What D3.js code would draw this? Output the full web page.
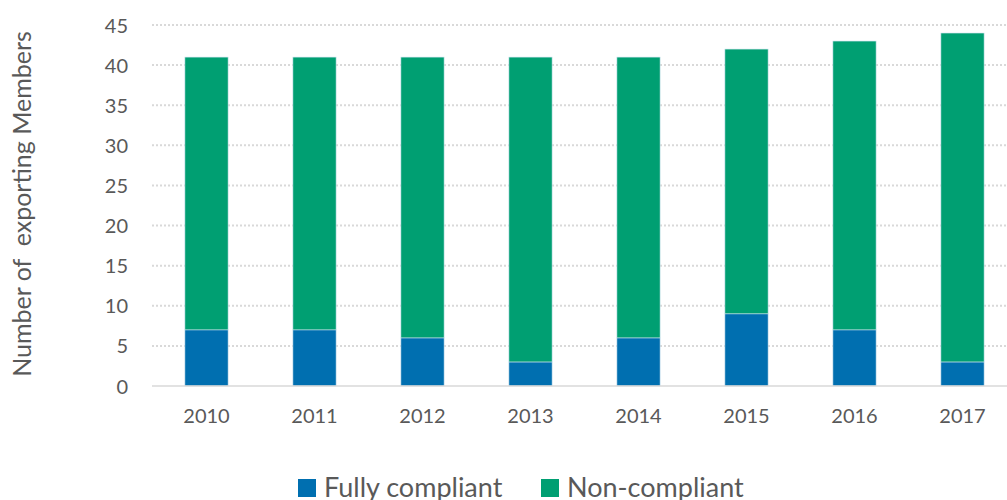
<!DOCTYPE html>
<html>
<head>
<meta charset="utf-8">
<title>Exporting Members compliance</title>
<script src="https://cdn.jsdelivr.net/npm/d3@7"></script>
<style>
  body { margin: 0; background: #fff; }
  svg { display: block; }
  svg text { font-family: Lato, "Open Sans", sans-serif; fill: #595959; }
</style>
</head>
<body>
<svg id="chart" width="1007" height="500"></svg>
<script>
// data
var years = ["2010", "2011", "2012", "2013", "2014", "2015", "2016", "2017"];
var fullyCompliant = [7, 7, 6, 3, 6, 9, 7, 3];
var nonCompliant = [34, 34, 35, 38, 35, 33, 36, 41];
var yTicks = [0, 5, 10, 15, 20, 25, 30, 35, 40, 45];
var seriesNames = ["Fully compliant", "Non-compliant"];
var seriesColors = ["#006fb0", "#009f72"];

var svg = d3.select("#chart");

var x = d3.scaleBand()
    .domain(years)
    .range([152.5, 1016.5])
    .paddingInner(0.6)
    .paddingOuter(0.3);

var y = d3.scaleLinear()
    .domain([0, 45])
    .range([386, 25]);

// dotted gridlines
svg.append("g")
    .selectAll("line")
    .data(yTicks.filter(function(d) { return d > 0; }))
    .enter()
    .append("line")
    .attr("x1", 152)
    .attr("x2", 1007)
    .attr("y1", function(d) { return y(d); })
    .attr("y2", function(d) { return y(d); })
    .attr("stroke", "#d9d9d9")
    .attr("stroke-width", 2)
    .attr("stroke-dasharray", "2,2");

// stacked bars
var rows = years.map(function(yr, i) {
    return { year: yr, fully: fullyCompliant[i], non: nonCompliant[i] };
});
var stack = d3.stack().keys(["fully", "non"])(rows);

svg.append("g")
    .selectAll("g")
    .data(stack)
    .enter()
    .append("g")
    .attr("fill", function(d, i) { return seriesColors[i]; })
    .selectAll("rect")
    .data(function(d) { return d; })
    .enter()
    .append("rect")
    .attr("x", function(d) { return x(d.data.year); })
    .attr("y", function(d) { return y(d[1]); })
    .attr("width", x.bandwidth())
    .attr("height", function(d) { return y(d[0]) - y(d[1]); })
    .attr("stroke", "#cfe3ef")
    .attr("stroke-width", 0.6);

// x axis
var xAxis = svg.append("g")
    .attr("transform", "translate(0,386)")
    .call(d3.axisBottom(x).tickSize(0).tickPadding(37));
xAxis.select(".domain").remove();
xAxis.append("line")
    .attr("x1", 152).attr("x2", 1007)
    .attr("stroke", "#d9d9d9").attr("stroke-width", 1.5);
xAxis.selectAll("text")
    .attr("dy", "0")
    .style("font-size", "20px");

// y axis
var yAxis = svg.append("g")
    .attr("transform", "translate(128,0)")
    .call(d3.axisLeft(y).tickValues(yTicks).tickSize(0).tickPadding(0));
yAxis.select(".domain").remove();
yAxis.selectAll("text")
    .attr("dy", "0.35em")
    .style("font-size", "20px");

// y axis title
svg.append("text")
    .attr("transform", "translate(31,204) rotate(-90)")
    .attr("text-anchor", "middle")
    .style("font-size", "25px")
    .style("white-space", "pre")
    .text("Number of  exporting Members");

// legend
var legend = svg.append("g");
var legendX = [298, 541];
seriesNames.forEach(function(name, i) {
    legend.append("rect")
        .attr("x", legendX[i])
        .attr("y", 479)
        .attr("width", 18)
        .attr("height", 18)
        .attr("fill", seriesColors[i]);
    legend.append("text")
        .attr("x", legendX[i] + 26)
        .attr("y", 497)
        .style("font-size", "27px")
        .text(name);
});
</script>
</body>
</html>
